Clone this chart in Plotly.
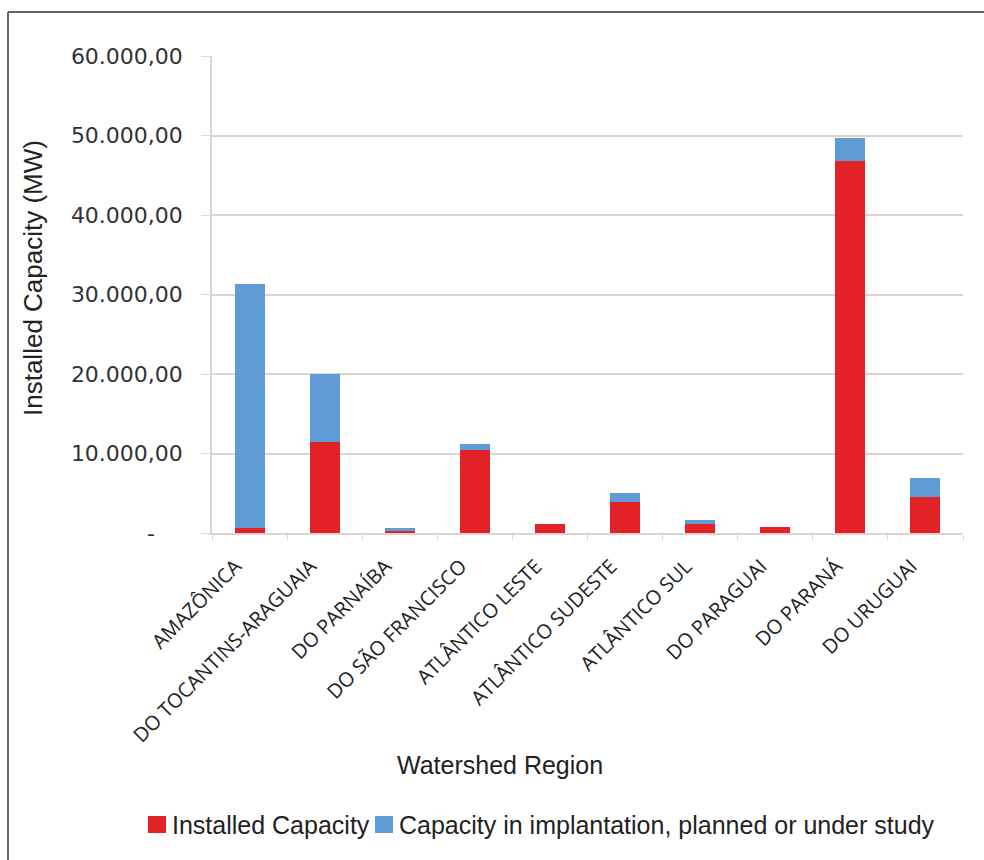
import plotly.graph_objects as go

regions = ["AMAZÔNICA", "DO TOCANTINS-ARAGUAIA", "DO PARNAÍBA", "DO SÃO FRANCISCO",
           "ATLÂNTICO LESTE", "ATLÂNTICO SUDESTE", "ATLÂNTICO SUL", "DO PARAGUAI",
           "DO PARANÁ", "DO URUGUAI"]
installed = [650, 11400, 230, 10400, 1130, 3900, 1100, 800, 46750, 4500]
planned = [30650, 8550, 450, 750, 0, 1150, 500, 0, 2900, 2450]

y_tickvals = [0, 10000, 20000, 30000, 40000, 50000, 60000]
y_ticktext = ["-\u00a0\u00a0\u00a0\u00a0", "10.000,00", "20.000,00", "30.000,00",
              "40.000,00", "50.000,00", "60.000,00"]

series_names = ["Installed Capacity", "Capacity in implantation, planned or under study"]
series_colors = ["#e32228", "#5f9bd5"]

W, H = 984, 860
ML, MR, MT, MB = 212, 21, 56, 327
PW, PH = W - ML - MR, H - MT - MB

def px_x(x):
    return (x - ML) / PW

def px_y(y):
    return (H - MB - y) / PH

fig = go.Figure()
for vals, name, col in zip([installed, planned], series_names, series_colors):
    fig.add_trace(go.Bar(x=regions, y=vals, name=name,
                         marker=dict(color=col, line=dict(width=0))))

LEG = "Liberation Sans, Arial, sans-serif"
grid_col = "#ddd4d1"

# custom legend (square swatches + labels)
leg_items = [(148, 170), (375, 397)]
shapes = [
    dict(type="line", xref="paper", yref="paper", x0=px_x(8), x1=px_x(990),
         y0=px_y(12), y1=px_y(12), line=dict(color="#666", width=2)),
    dict(type="line", xref="paper", yref="paper", x0=px_x(8), x1=px_x(8),
         y0=px_y(12), y1=px_y(870), line=dict(color="#666", width=2)),
]
annotations = [
    dict(text="Installed Capacity (MW)", textangle=-90, xref="paper", yref="paper",
         x=px_x(33), y=px_y(278), xanchor="center", yanchor="middle", showarrow=False,
         font=dict(family=LEG, size=26, color="#222")),
    dict(text="Watershed Region", xref="paper", yref="paper",
         x=px_x(500), y=px_y(765), xanchor="center", yanchor="middle", showarrow=False,
         font=dict(family=LEG, size=25, color="#222")),
]
for (sx, tx), name, col in zip(leg_items, series_names, series_colors):
    shapes.append(dict(type="rect", xref="paper", yref="paper",
                       x0=px_x(sx), x1=px_x(sx + 18), y0=px_y(816), y1=px_y(833),
                       fillcolor=col, line=dict(width=0)))
    annotations.append(dict(text=name, xref="paper", yref="paper",
                            x=px_x(tx), y=px_y(825), xanchor="left", yanchor="middle",
                            showarrow=False, font=dict(family=LEG, size=25, color="#222")))

fig.update_layout(
    width=W, height=H,
    margin=dict(l=ML, r=MR, t=MT, b=MB, autoexpand=False),
    barmode="stack", bargap=0.6,
    plot_bgcolor="white", paper_bgcolor="white",
    font=dict(family=LEG, color="#222"),
    showlegend=False,
    xaxis=dict(type="category", tickangle=-45, tickson="boundaries",
               ticks="outside", ticklen=5, tickcolor=grid_col,
               showline=True, linecolor=grid_col, linewidth=1.5,
               showgrid=False, automargin=False,
               ticklabelstandoff=12, ticklabelshift=-14,
               tickfont=dict(family="Open Sans, sans-serif", size=20, color="#222")),
    yaxis=dict(range=[0, 60000], tickvals=y_tickvals, ticktext=y_ticktext,
               ticks="outside", ticklen=9, tickcolor=grid_col,
               showline=True, linecolor=grid_col, linewidth=1.5,
               showgrid=True, gridcolor=grid_col, gridwidth=1.5,
               zeroline=False, ticklabelstandoff=14, automargin=False,
               tickfont=dict(family="DejaVu Sans, sans-serif", size=22, color="#333")),
    annotations=annotations,
    shapes=shapes,
)

fig.write_html("out.html")
